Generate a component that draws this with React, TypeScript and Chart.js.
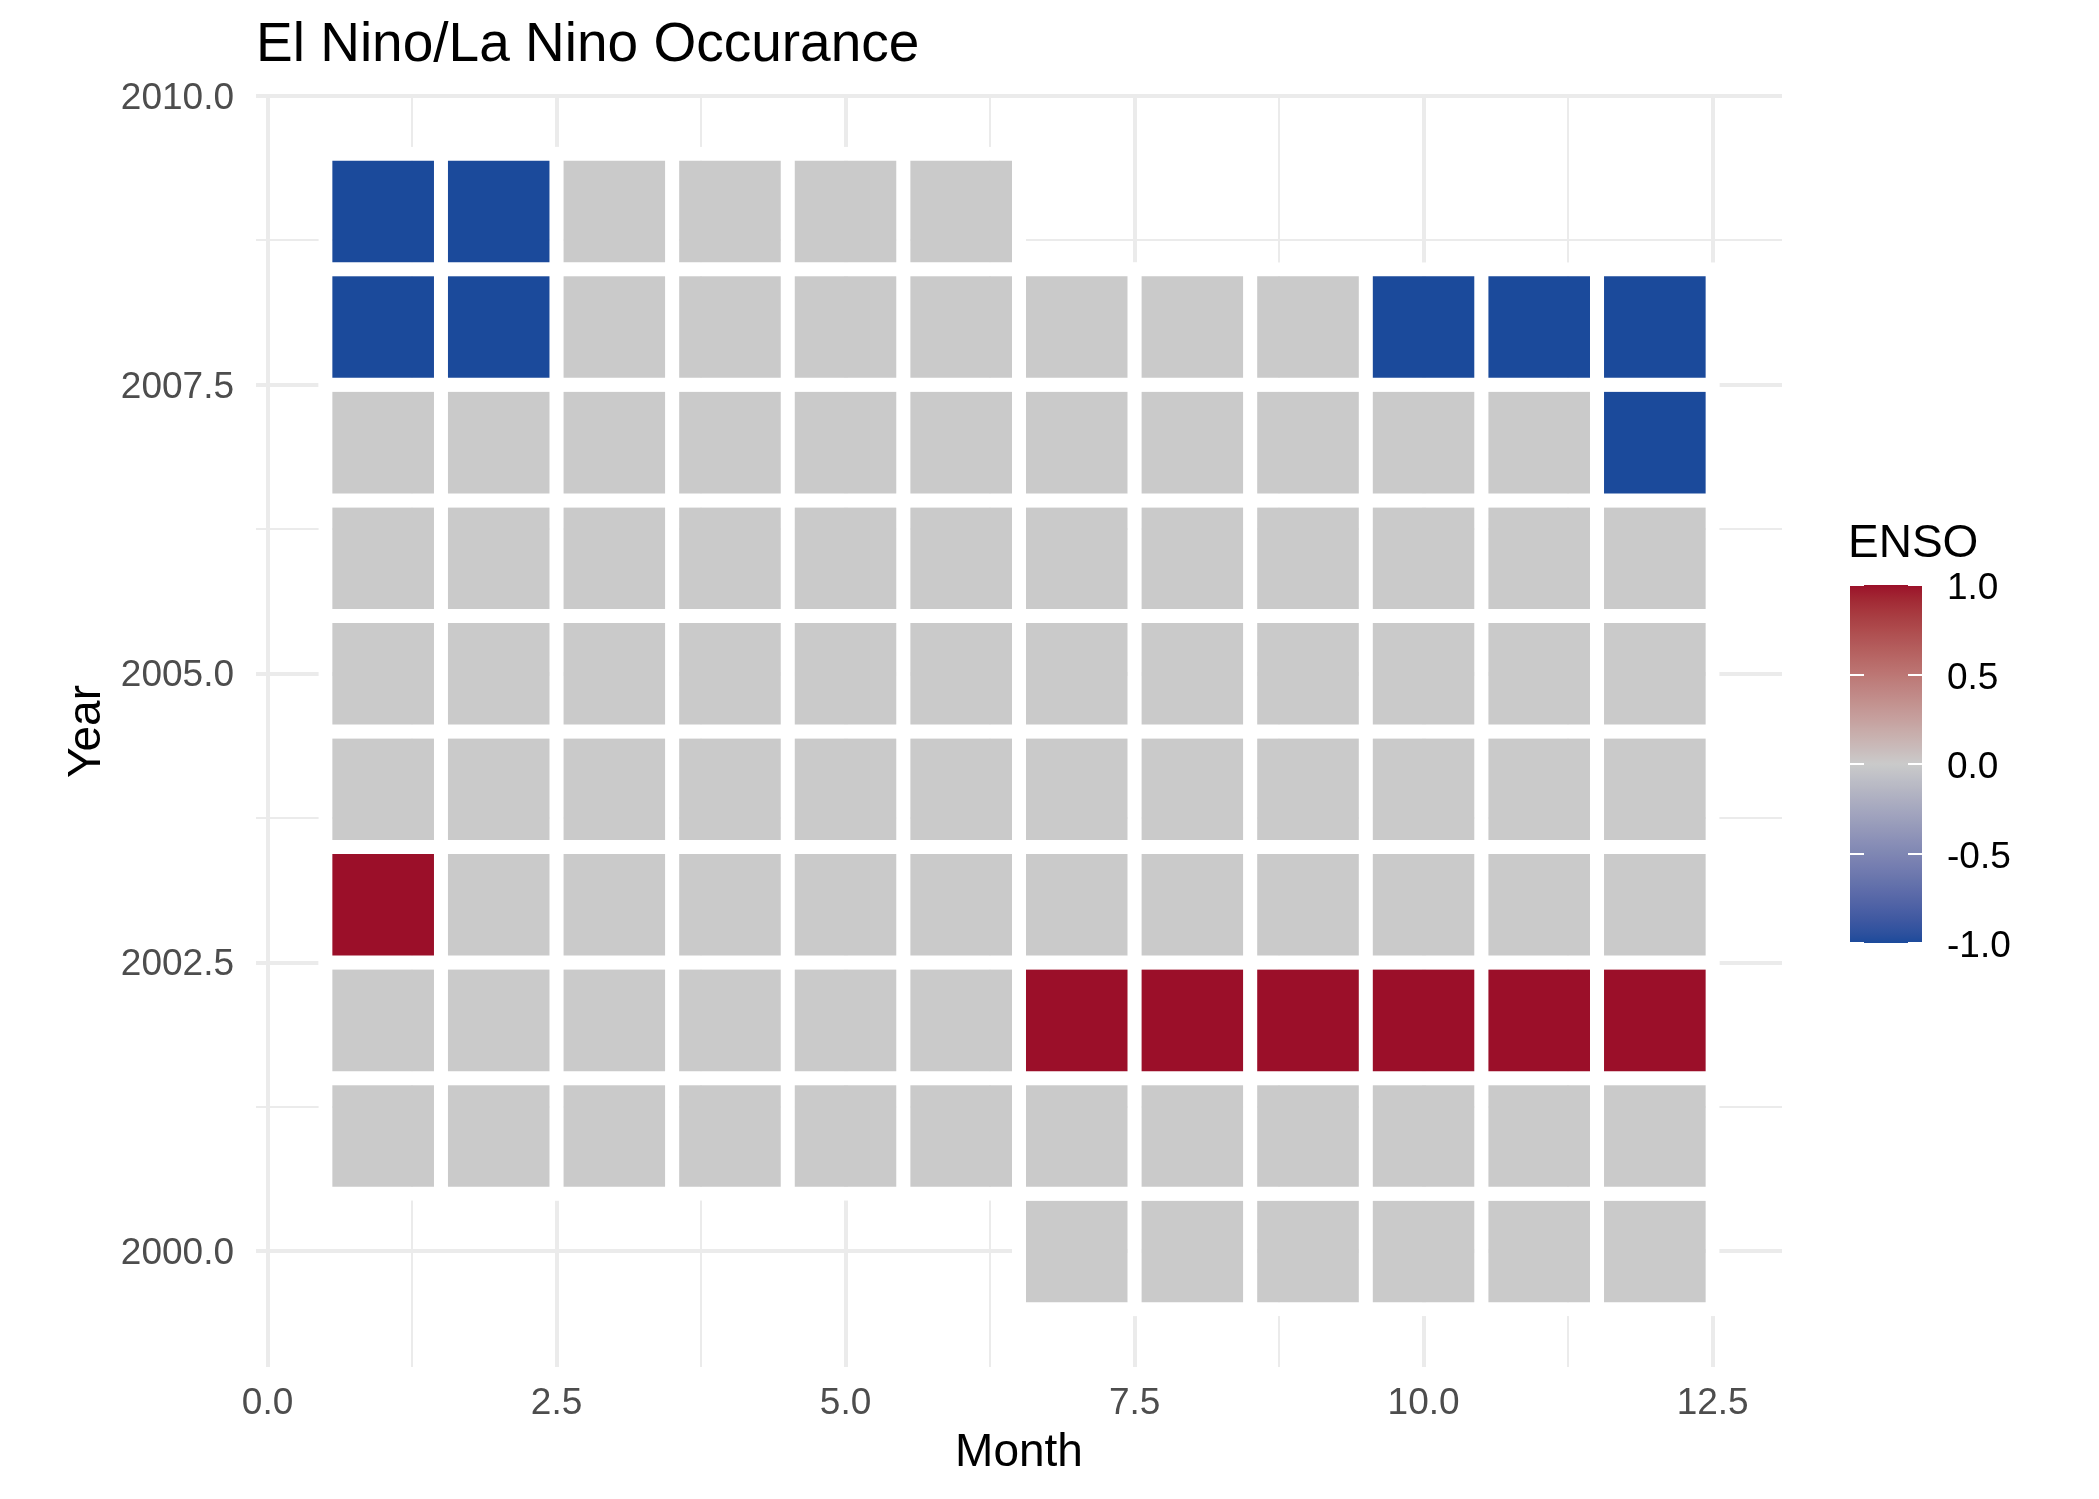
import React, { useEffect, useRef } from "react";
import { Chart, registerables } from "chart.js";

Chart.register(...registerables);

// ---------------- data ----------------
const months = [1, 2, 3, 4, 5, 6, 7, 8, 9, 10, 11, 12];
const years = [2000, 2001, 2002, 2003, 2004, 2005, 2006, 2007, 2008, 2009];

const enso2000 = [null, null, null, null, null, null, 0, 0, 0, 0, 0, 0];
const enso2001 = [0, 0, 0, 0, 0, 0, 0, 0, 0, 0, 0, 0];
const enso2002 = [0, 0, 0, 0, 0, 0, 1, 1, 1, 1, 1, 1];
const enso2003 = [1, 0, 0, 0, 0, 0, 0, 0, 0, 0, 0, 0];
const enso2004 = [0, 0, 0, 0, 0, 0, 0, 0, 0, 0, 0, 0];
const enso2005 = [0, 0, 0, 0, 0, 0, 0, 0, 0, 0, 0, 0];
const enso2006 = [0, 0, 0, 0, 0, 0, 0, 0, 0, 0, 0, 0];
const enso2007 = [0, 0, 0, 0, 0, 0, 0, 0, 0, 0, 0, -1];
const enso2008 = [-1, -1, 0, 0, 0, 0, 0, 0, 0, -1, -1, -1];
const enso2009 = [-1, -1, 0, 0, 0, 0, null, null, null, null, null, null];

const ensoRows = [
  enso2000, enso2001, enso2002, enso2003, enso2004,
  enso2005, enso2006, enso2007, enso2008, enso2009,
];

const xMajorTicks = [0, 2.5, 5, 7.5, 10, 12.5];
const xMinorTicks = [1.25, 3.75, 6.25, 8.75, 11.25];
const yMajorTicks = [2000, 2002.5, 2005, 2007.5, 2010];
const yMinorTicks = [2001.25, 2003.75, 2006.25, 2008.75];
const legendTicks = [-1, -0.5, 0, 0.5, 1];

// ---------------- styles ----------------
const FONT = "'Liberation Sans', Arial, Helvetica, sans-serif";
const LOW = "#1B4A9B";
const MID = "#CACACA";
const HIGH = "#9B0F29";
const HALO = 0.0606; // white tile outline reaching outside each tile (data units)

// ---------------- Lab colour interpolation (like scales::div_gradient_pal) ----------------
function hexToRgb(h: string): number[] {
  const s = h.replace("#", "");
  return [0, 2, 4].map((i) => parseInt(s.slice(i, i + 2), 16));
}
const toLin = (c: number) => {
  c /= 255;
  return c <= 0.04045 ? c / 12.92 : Math.pow((c + 0.055) / 1.055, 2.4);
};
const fromLin = (c: number) => {
  const v = c <= 0.0031308 ? 12.92 * c : 1.055 * Math.pow(c, 1 / 2.4) - 0.055;
  return Math.max(0, Math.min(255, Math.round(v * 255)));
};
const Xn = 0.95047, Yn = 1, Zn = 1.08883;
const d = 6 / 29;
const f = (t: number) => (t > d * d * d ? Math.cbrt(t) : t / (3 * d * d) + 4 / 29);
const fi = (t: number) => (t > d ? t * t * t : 3 * d * d * (t - 4 / 29));
function rgbToLab(rgb: number[]): number[] {
  const [r, g, b] = rgb.map(toLin);
  const X = 0.4124564 * r + 0.3575761 * g + 0.1804375 * b;
  const Y = 0.2126729 * r + 0.7151522 * g + 0.072175 * b;
  const Z = 0.0193339 * r + 0.119192 * g + 0.9503041 * b;
  const fx = f(X / Xn), fy = f(Y / Yn), fz = f(Z / Zn);
  return [116 * fy - 16, 500 * (fx - fy), 200 * (fy - fz)];
}
function labToRgb(lab: number[]): number[] {
  const [L, a, b] = lab;
  const fy = (L + 16) / 116;
  const fx = fy + a / 500;
  const fz = fy - b / 200;
  const X = Xn * fi(fx), Y = Yn * fi(fy), Z = Zn * fi(fz);
  const r = 3.2404542 * X - 1.5371385 * Y - 0.4985314 * Z;
  const g = -0.969266 * X + 1.8760108 * Y + 0.041556 * Z;
  const bb = 0.0556434 * X - 0.2040259 * Y + 1.0572252 * Z;
  return [fromLin(r), fromLin(g), fromLin(bb)];
}
const labLow = rgbToLab(hexToRgb(LOW));
const labMid = rgbToLab(hexToRgb(MID));
const labHigh = rgbToLab(hexToRgb(HIGH));
function fillFor(v: number): string {
  const t = Math.max(0, Math.min(1, (v + 1) / 2));
  let a: number[], b: number[], u: number;
  if (t <= 0.5) { a = labLow; b = labMid; u = t * 2; }
  else { a = labMid; b = labHigh; u = (t - 0.5) * 2; }
  const lab = [0, 1, 2].map((i) => a[i] + (b[i] - a[i]) * u);
  const [r, g, bl] = labToRgb(lab);
  return `rgb(${r},${g},${bl})`;
}

// ---------------- legend (colour bar) ----------------
const colorbarPlugin = {
  id: "ensoColorbar",
  afterDraw(chart: any) {
    const ctx = chart.ctx as CanvasRenderingContext2D;
    const x0 = 1850, w = 72, top = 585, bottom = 943;
    const lo = legendTicks[0], hi = legendTicks[legendTicks.length - 1];
    const yFor = (v: number) => bottom - ((v - lo) / (hi - lo)) * (bottom - top);
    ctx.save();
    const grad = ctx.createLinearGradient(0, bottom, 0, top);
    const n = 80;
    for (let i = 0; i <= n; i++) {
      const t = i / n;
      grad.addColorStop(t, fillFor(lo + t * (hi - lo)));
    }
    ctx.fillStyle = grad;
    ctx.fillRect(x0, top, w, bottom - top);
    ctx.strokeStyle = "#FFFFFF";
    ctx.lineWidth = 2;
    legendTicks.forEach((v) => {
      const y = Math.round(yFor(v));
      ctx.beginPath();
      ctx.moveTo(x0, y); ctx.lineTo(x0 + 14, y);
      ctx.moveTo(x0 + w - 14, y); ctx.lineTo(x0 + w, y);
      ctx.stroke();
    });
    ctx.fillStyle = "#000000";
    ctx.font = `37px ${FONT}`;
    ctx.textAlign = "left";
    ctx.textBaseline = "middle";
    legendTicks.forEach((v) => {
      ctx.fillText(v.toFixed(1), 1947, yFor(v) + 4);
    });
    ctx.font = `46px ${FONT}`;
    ctx.textBaseline = "alphabetic";
    ctx.fillText("ENSO", 1848, 557);
    ctx.restore();
  },
};

function buildTicks(major: number[], minor: number[]) {
  return [
    ...major.map((v) => ({ value: v, major: true })),
    ...minor.map((v) => ({ value: v, major: false })),
  ].sort((a, b) => a.value - b.value);
}

export default function App() {
  const ref = useRef<HTMLCanvasElement | null>(null);

  useEffect(() => {
    if (!ref.current) return;
    Chart.defaults.font.family = FONT;

    const cells: any[] = [];
    years.forEach((yr, i) => {
      ensoRows[i].forEach((v, j) => {
        if (v !== null && v !== undefined) {
          cells.push({ x: months[j], y: [yr - 0.5 - HALO, yr + 0.5 + HALO], enso: v });
        }
      });
    });

    const chart = new Chart(ref.current, {
      type: "bar",
      data: {
        datasets: [
          {
            label: "ENSO",
            data: cells,
            backgroundColor: cells.map((c) => fillFor(c.enso)),
            borderColor: "#FFFFFF",
            borderWidth: 14,
            borderSkipped: false,
            borderRadius: 0,
            barPercentage: 1 + 2 * HALO,
            categoryPercentage: 1,
            grouped: false,
          } as any,
        ],
      },
      options: {
        responsive: false,
        animation: false,
        devicePixelRatio: 1,
        events: [],
        layout: { padding: { left: 0, right: 317, top: 0, bottom: 0 } },
        plugins: {
          legend: { display: false },
          tooltip: { enabled: false },
          title: {
            display: true,
            text: "El Nino/La Nino Occurance",
            align: "start",
            fullSize: false,
            color: "#000000",
            font: { size: 55, weight: "normal", family: FONT },
            padding: { top: 13, bottom: 17 },
          },
        },
        scales: {
          x: {
            type: "linear",
            min: -0.1,
            max: 13.1,
            bounds: "data",
            offset: false,
            afterBuildTicks: (s: any) => { s.ticks = buildTicks(xMajorTicks, xMinorTicks); },
            afterFit: (s: any) => { s.height = 132; },
            ticks: {
              autoSkip: false,
              maxRotation: 0,
              minRotation: 0,
              padding: 15,
              color: "#4D4D4D",
              font: { size: 37, family: FONT },
              callback: (val: any, i: number, ticks: any[]) =>
                ticks[i] && ticks[i].major ? Number(val).toFixed(1) : "",
            },
            grid: {
              offset: false,
              drawTicks: false,
              color: "#EBEBEB",
              lineWidth: (c: any) => (c.tick && c.tick.major ? 4 : 2),
            },
            border: { display: false },
            title: {
              display: true,
              text: "Month",
              color: "#000000",
              font: { size: 46, family: FONT },
              padding: { top: 0, bottom: 18 },
            },
          },
          y: {
            type: "linear",
            min: 1999,
            max: 2010,
            bounds: "data",
            afterBuildTicks: (s: any) => { s.ticks = buildTicks(yMajorTicks, yMinorTicks); },
            afterFit: (s: any) => { s.width = 256; },
            ticks: {
              autoSkip: false,
              padding: 22,
              labelOffset: 2.5,
              color: "#4D4D4D",
              font: { size: 37, family: FONT },
              callback: (val: any, i: number, ticks: any[]) =>
                ticks[i] && ticks[i].major ? Number(val).toFixed(1) : "",
            },
            grid: {
              offset: false,
              drawTicks: false,
              color: "#EBEBEB",
              lineWidth: (c: any) => (c.tick && c.tick.major ? 4 : 2),
            },
            border: { display: false },
            title: {
              display: true,
              text: "Year",
              color: "#000000",
              font: { size: 46, family: FONT },
              padding: { top: 60, bottom: 0 },
            },
          },
        },
      } as any,
      plugins: [colorbarPlugin],
    });

    return () => chart.destroy();
  }, []);

  return (
    <div style={{ position: "absolute", left: 0, top: 0, width: 2099, height: 1499, background: "#FFFFFF" }}>
      <canvas ref={ref} width={2099} height={1499} style={{ display: "block", width: 2099, height: 1499 }} />
    </div>
  );
}
